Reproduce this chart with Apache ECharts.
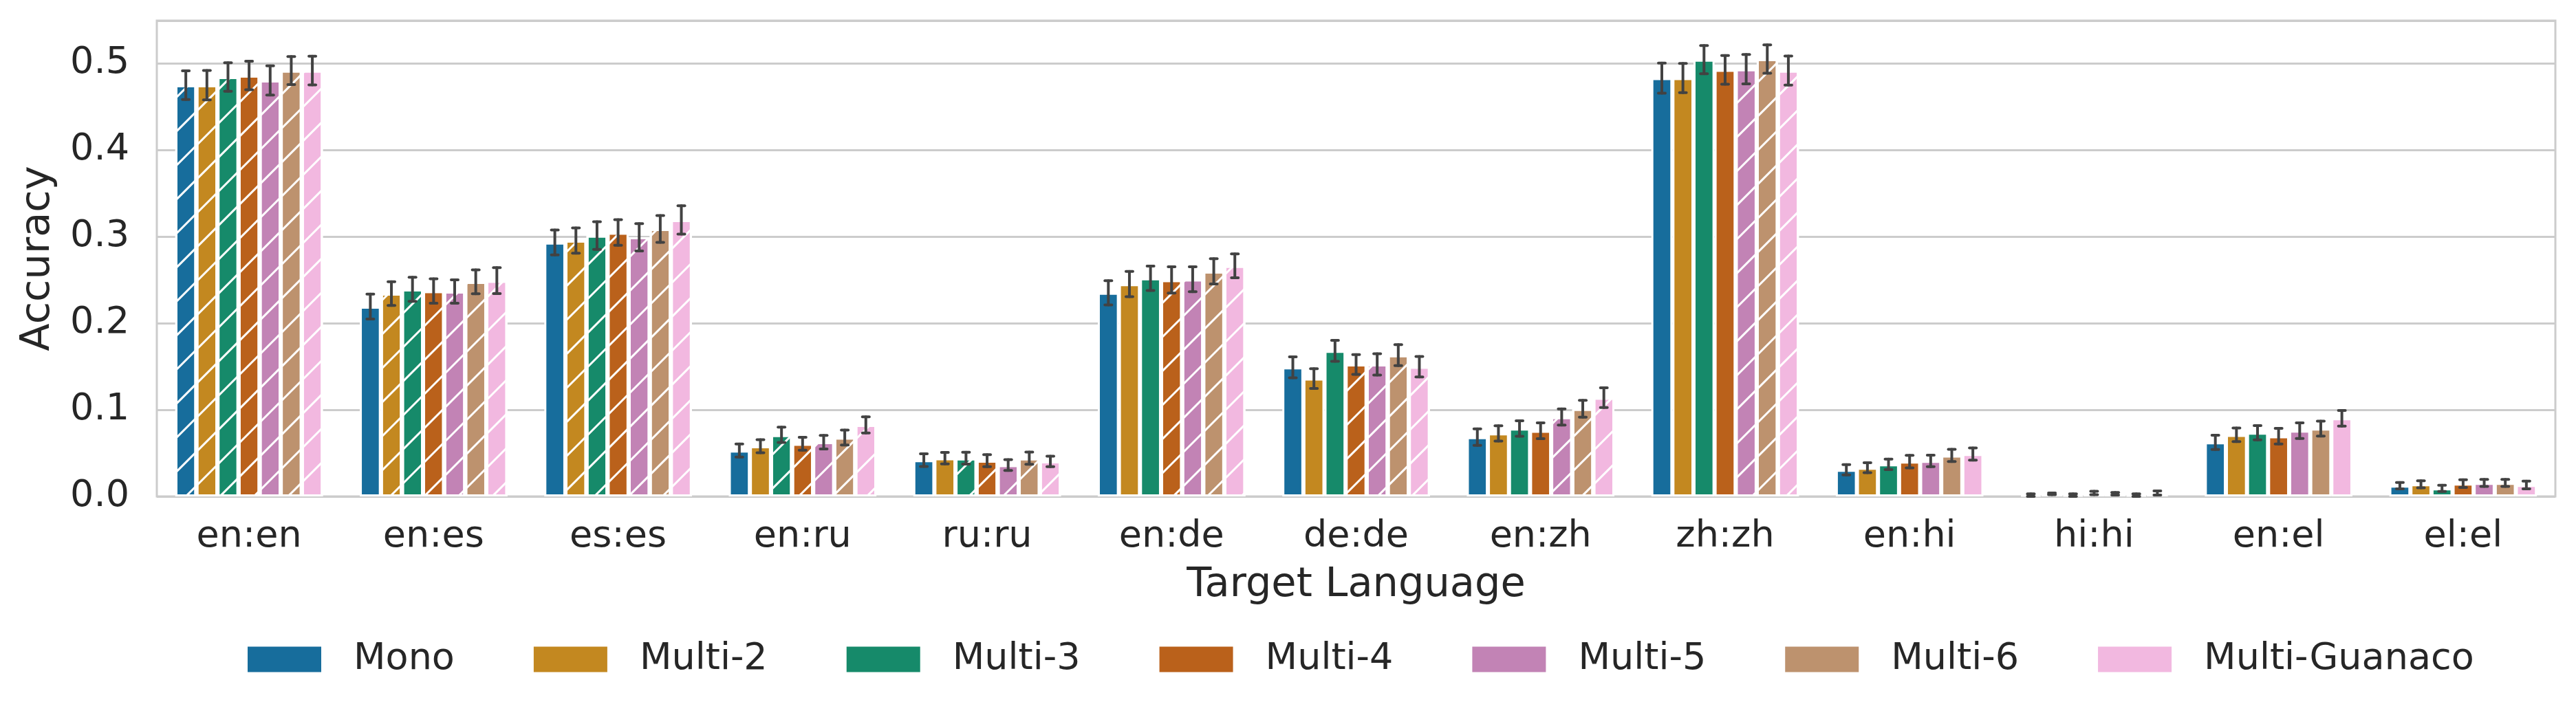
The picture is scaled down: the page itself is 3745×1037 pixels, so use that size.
<!DOCTYPE html>
<html>
<head>
<meta charset="utf-8">
<title>Accuracy by target language</title>
<script src="https://cdn.jsdelivr.net/npm/echarts@6/dist/echarts.min.js"></script>
<style>
  html, body { margin: 0; padding: 0; background: #fff; }
  #chart { width: 3745px; height: 1037px; }
</style>
</head>
<body>
<div id="chart"></div>
<script>
// categories on the x axis
const categories = ['en:en', 'en:es', 'es:es', 'en:ru', 'ru:ru', 'en:de', 'de:de',
    'en:zh', 'zh:zh', 'en:hi', 'hi:hi', 'en:el', 'el:el'];

const models = ['Mono', 'Multi-2', 'Multi-3', 'Multi-4', 'Multi-5', 'Multi-6', 'Multi-Guanaco'];
const colors = ['#176d9c', '#c38820', '#168a6a', '#ba611b', '#c283b5', '#bd926e', '#f2b8e0'];

// mean accuracy per model, same order as categories
const mono     = [0.4745, 0.219, 0.293, 0.053, 0.0418, 0.235, 0.149, 0.0685, 0.4827, 0.0307, 0.0015, 0.0624, 0.0124];
const multi2   = [0.4745, 0.234, 0.2953, 0.0579, 0.0441, 0.245, 0.136, 0.0727, 0.4827, 0.0331, 0.003, 0.0711, 0.014];
const multi3   = [0.484, 0.239, 0.301, 0.0711, 0.0441, 0.2517, 0.168, 0.0784, 0.504, 0.037, 0.0015, 0.0735, 0.0093];
const multi4   = [0.4857, 0.237, 0.3045, 0.0608, 0.0412, 0.2498, 0.1523, 0.0757, 0.4922, 0.0402, 0.004, 0.0695, 0.0148];
const multi5   = [0.48, 0.2365, 0.299, 0.0626, 0.0362, 0.2506, 0.1523, 0.0917, 0.493, 0.041, 0.003, 0.0759, 0.0156];
const multi6   = [0.4914, 0.2476, 0.3086, 0.068, 0.0441, 0.2597, 0.163, 0.1011, 0.5047, 0.0473, 0.0015, 0.0783, 0.0156];
const guanaco  = [0.4914, 0.249, 0.319, 0.0825, 0.0404, 0.2661, 0.1497, 0.114, 0.4914, 0.0489, 0.004, 0.0902, 0.0132];

// half width of the error bars
const monoErr    = [0.0165, 0.0144, 0.0144, 0.0075, 0.0073, 0.014, 0.0121, 0.0095, 0.0173, 0.006, 0.0015, 0.0083, 0.0036];
const multi2Err  = [0.0169, 0.0137, 0.0146, 0.0075, 0.0067, 0.0146, 0.0114, 0.0089, 0.0169, 0.0058, 0.001, 0.0079, 0.004];
const multi3Err  = [0.0165, 0.0138, 0.0159, 0.0089, 0.0069, 0.014, 0.0121, 0.0089, 0.0163, 0.006, 0.0015, 0.0083, 0.0036];
const multi4Err  = [0.0165, 0.014, 0.0148, 0.0075, 0.0069, 0.0152, 0.0114, 0.0091, 0.0165, 0.0073, 0.002, 0.009, 0.0044];
const multi5Err  = [0.0169, 0.0135, 0.0157, 0.0078, 0.0062, 0.0144, 0.0123, 0.0093, 0.0169, 0.0067, 0.0015, 0.009, 0.0041];
const multi6Err  = [0.0161, 0.0138, 0.0154, 0.0086, 0.007, 0.0146, 0.0121, 0.0097, 0.0163, 0.0071, 0.0015, 0.0086, 0.0041];
const guanacoErr = [0.0165, 0.015, 0.0163, 0.0094, 0.006, 0.0138, 0.0118, 0.0114, 0.0167, 0.0071, 0.0024, 0.009, 0.0044];

// how many leading categories are hatched for each model
const hatchedCount = [1, 3, 5, 7, 9, 9, 9];

const yTicks = ['0.0', '0.1', '0.2', '0.3', '0.4', '0.5'];

const values = [mono, multi2, multi3, multi4, multi5, multi6, guanaco];
const errors = [monoErr, multi2Err, multi3Err, multi4Err, multi5Err, multi6Err, guanacoErr];

const FONT = 'DejaVu Sans';
const TEXT = '#262626';

// white "/" hatching
const hatch = {
    symbol: 'rect',
    symbolSize: 1,
    symbolKeepAspect: false,
    dashArrayX: [[20, 0]],
    dashArrayY: [3, 32],
    rotation: -Math.PI / 4,
    color: '#ffffff',
    backgroundColor: 'rgba(0,0,0,0)'
};

function errorBar(s) {
    return function (params, api) {
        const i = api.value(0);
        const v = api.value(1);
        const e = api.value(2);
        const w = api.size([1, 0])[0] * 0.8 / models.length;
        const x = api.coord([i, v])[0] + (s - (models.length - 1) / 2) * w;
        const yHi = api.coord([i, v + e])[1];
        const yLo = api.coord([i, Math.max(0, v - e)])[1];
        const style = { stroke: '#424242', lineWidth: 4, lineCap: 'round' };
        return {
            type: 'group',
            children: [
                { type: 'line', shape: { x1: x, y1: yHi, x2: x, y2: yLo }, style: style },
                { type: 'line', shape: { x1: x - 5, y1: yHi, x2: x + 5, y2: yHi }, style: style },
                { type: 'line', shape: { x1: x - 5, y1: yLo, x2: x + 5, y2: yLo }, style: style }
            ]
        };
    };
}

const series = [];
models.forEach(function (name, s) {
    series.push({
        name: name,
        type: 'bar',
        barGap: '0%',
        barCategoryGap: '20%',
        itemStyle: { color: colors[s], borderColor: '#ffffff', borderWidth: 3 },
        data: values[s].map(function (v, i) {
            const item = { value: v };
            if (i < hatchedCount[s]) item.itemStyle = { decal: hatch };
            return item;
        })
    });
});
models.forEach(function (name, s) {
    series.push({
        type: 'custom',
        renderItem: errorBar(s),
        z: 5,
        data: values[s].map(function (v, i) { return [i, v, errors[s][i]]; })
    });
});

const chart = echarts.init(document.getElementById('chart'));
chart.setOption({
    animation: false,
    backgroundColor: '#ffffff',
    textStyle: { fontFamily: FONT, color: TEXT },
    grid: {
        left: 228, top: 30, width: 3487, height: 692,
        show: true, borderColor: '#cccccc', borderWidth: 3, backgroundColor: 'transparent'
    },
    legend: {
        data: models,
        left: 355,
        top: 927,
        icon: 'rect',
        itemWidth: 107,
        itemHeight: 37,
        itemGap: 115,
        itemStyle: { borderWidth: 0 },
        textStyle: { fontFamily: FONT, fontSize: 54, color: TEXT, lineHeight: 54, padding: [0, 0, 0, 42] }
    },
    xAxis: {
        type: 'category',
        data: categories,
        name: 'Target Language',
        nameLocation: 'middle',
        nameGap: 100,
        nameTextStyle: { fontFamily: FONT, fontSize: 59, color: TEXT },
        axisLine: { show: false },
        axisTick: { show: false },
        axisLabel: { fontFamily: FONT, fontSize: 54, color: TEXT, margin: 32 },
        splitLine: { show: false }
    },
    yAxis: {
        type: 'value',
        min: 0,
        max: 0.549,
        interval: 0.1,
        name: 'Accuracy',
        nameLocation: 'middle',
        nameGap: 143,
        nameTextStyle: { fontFamily: FONT, fontSize: 59, color: TEXT },
        axisLine: { show: false },
        axisTick: { show: false },
        axisLabel: {
            fontFamily: FONT, fontSize: 54, color: TEXT, margin: 40, showMaxLabel: false,
            formatter: function (v) { return yTicks[Math.round(v * 10)] || ''; }
        },
        splitLine: { lineStyle: { color: '#cccccc', width: 3 } }
    },
    series: series
});
</script>
</body>
</html>
